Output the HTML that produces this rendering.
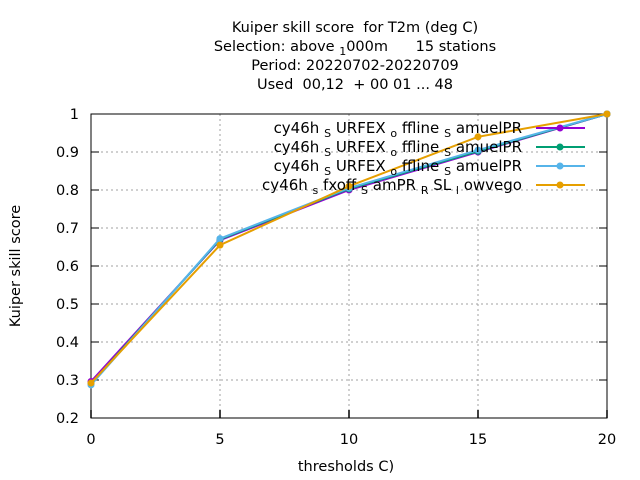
<!DOCTYPE html>
<html><head><meta charset="utf-8"><style>
body{margin:0;background:#fff}
svg{display:block;font-family:"DejaVu Sans","Liberation Sans",sans-serif}
text{white-space:pre}
</style></head><body>
<svg id="chart" width="640" height="480" xmlns="http://www.w3.org/2000/svg">
<g font-size="14.5" text-anchor="middle" fill="#000">
<text x="355" y="32">Kuiper skill score  for T2m (deg C)</text>
<text x="355" y="51">Selection: above <tspan dy="4" font-size="11">1</tspan><tspan dy="-4">000m      15 stations</tspan></text>
<text x="355" y="70">Period: 20220702-20220709</text>
<text x="355" y="89">Used  00,12  + 00 01 ... 48</text>
</g>
<g id="grid"></g>
<g id="axes"></g>
<text x="20" y="266" font-size="14.5" text-anchor="middle" transform="rotate(-90 20 266)">Kuiper skill score</text>
<text x="346" y="471" font-size="14.5" text-anchor="middle">thresholds C)</text>
<g id="series"></g>
<g id="legend"></g>
</svg>
<script>
const categories=[0,5,10,15,20];
const seriesA=[0.296,0.668,0.800,0.900,1.0];
const seriesB=[0.290,0.670,0.803,0.902,1.0];
const seriesC=[0.287,0.672,0.805,0.905,1.0];
const seriesD=[0.292,0.655,0.810,0.940,1.0];
const xTicks=[0,5,10,15,20];
const yTicks=[0.2,0.3,0.4,0.5,0.6,0.7,0.8,0.9,1];
const yTickLabels=["0.2","0.3","0.4","0.5","0.6","0.7","0.8","0.9","1"];
const legendLabels=[
 ['cy46h ',['S',' URFEX '],['o',' ffline '],['S',' amuelPR']],
 ['cy46h ',['S',' URFEX '],['o',' ffline '],['S',' amuelPR']],
 ['cy46h ',['S',' URFEX '],['o',' ffline '],['S',' amuelPR']],
 ['cy46h ',['s',' fxoff '],['S',' amPR '],['R',' SL '],['l',' owvego']]
];
const colors=['#9400d3','#009e73','#56b4e9','#e69f00'];
const L=91,R=607,T=114,B=418;
const xs=v=>L+(v-0)/(20-0)*(R-L);
const ys=v=>B-(v-0.2)/(1-0.2)*(B-T);
const NS='http://www.w3.org/2000/svg';
function mk(tag,attrs,parent){const e=document.createElementNS(NS,tag);for(const k in attrs)e.setAttribute(k,attrs[k]);parent.appendChild(e);return e;}
const grid=document.getElementById('grid'),axes=document.getElementById('axes');
yTicks.forEach((t,i)=>{
 const y=ys(t);
 if(i>0&&i<yTicks.length-1){const g=mk('line',{x1:L,x2:R,y1:y,y2:y,stroke:'#a0a0a0','stroke-width':1,'stroke-dasharray':'2,3'},grid);
 
 }
 const tk=mk('line',{x1:L,x2:L+8,y1:y,y2:y,stroke:'#000'},axes);
 
 
 const tk2=mk('line',{x1:R,x2:R-8,y1:y,y2:y,stroke:'#000'},axes);
 
 
 const tx=mk('text',{x:L-12,y:y+5,'font-size':14.5,'text-anchor':'end'},axes);
 tx.textContent=yTickLabels[i];
 
 
});
xTicks.forEach((t,i)=>{
 const x=xs(t);
 if(i>0&&i<xTicks.length-1){const g=mk('line',{x1:x,x2:x,y1:T,y2:B,stroke:'#a0a0a0','stroke-width':1,'stroke-dasharray':'2,3'},grid);
 
 }
 const tk=mk('line',{x1:x,x2:x,y1:B,y2:B-8,stroke:'#000','stroke-width':1.5},axes);
 
 
 const tx=mk('text',{x:x,y:B+26,'font-size':14.5,'text-anchor':'middle'},axes);
 tx.textContent=String(t);
 
 
});
const fr=mk('rect',{x:L,y:T,width:R-L,height:B-T,fill:'none',stroke:'#000'},axes);


const ser=document.getElementById('series');
[seriesA,seriesB,seriesC,seriesD].forEach((s,si)=>{
 const pts=s.map((v,i)=>xs(categories[i])+','+ys(v)).join(' ');
 const pl=mk('polyline',{points:pts,fill:'none',stroke:colors[si],'stroke-width':2},ser);
 
 
 s.forEach((v,i)=>{
  const c=mk('circle',{cx:xs(categories[i]),cy:ys(v),r:3.5,fill:colors[si]},ser);
  
  
 });
});
const leg=document.getElementById('legend');
legendLabels.forEach((lab,i)=>{
 const y=128+i*19;
 const t=mk('text',{x:522,y:y+5,'font-size':15,'text-anchor':'end'},leg);
 
 
 lab.forEach(p=>{
  if(typeof p==='string'){const ts=mk('tspan',{},t);ts.textContent=p;}
  else{const a=mk('tspan',{dy:4,'font-size':11},t);a.textContent=p[0];const b=mk('tspan',{dy:-4},t);b.textContent=p[1];}
 });
 const ln=mk('line',{x1:536,x2:585,y1:y,y2:y,stroke:colors[i],'stroke-width':2},leg);
 
 
 const c=mk('circle',{cx:560,cy:y,r:3.5,fill:colors[i]},leg);
 
 
});
</script>
</body></html>
